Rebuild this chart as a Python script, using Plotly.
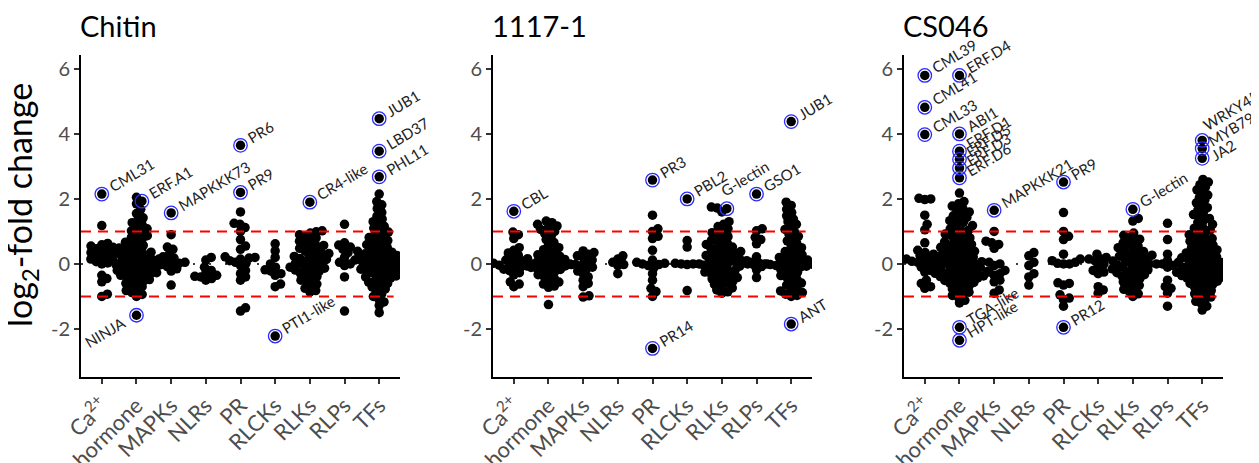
import math
import plotly.graph_objects as go

categories = ["Ca2+", "hormone", "MAPKs", "NLRs", "PR", "RLCKs", "RLKs", "RLPs", "TFs"]
category_ticktext = ["Ca<sup>2+</sup>", "hormone", "MAPKs", "NLRs", "PR", "RLCKs", "RLKs", "RLPs", "TFs"]
panel_titles = ["Chitin", "1117-1", "CS046"]
ytick_vals = [-2, 0, 2, 4, 6]
ytick_text = ["-2", "0", "2", "4", "6"]
threshold = 1.0

# ---------------- Chitin ----------------
chitin_ca = [1.18, 0.63, 0.59, 0.55, 0.51, 0.47, 0.43, 0.39, 0.35, 0.31, 0.27, 0.23, 0.19, 0.15, 0.11, 0.07, 0.03,
             0.0, -0.35, -0.45, -0.55, -0.93, -1.0]
chitin_hormone = [2.05, 1.85, 1.68, 1.55, 1.42, 1.33, 1.27, 1.2, 1.14, 1.08, 1.02, 0.97, 0.92, 0.87, 0.82, 0.77, 0.72,
                  0.67, 0.62, 0.57, 0.53, 0.49, 0.46, 0.43, 0.39, 0.36, 0.33, 0.3, 0.27, 0.24, 0.21, 0.18, 0.15, 0.12,
                  0.1, 0.08, 0.05, 0.03, 0.0, -0.02, -0.05, -0.07, -0.1, -0.12, -0.15, -0.17, -0.2, -0.22, -0.25,
                  -0.27, -0.3, -0.32, -0.35, -0.38, -0.41, -0.44, -0.48, -0.52, -0.56, -0.6, -0.65, -0.7, -0.76,
                  -0.82, -0.88, -0.94, -1.0]
chitin_mapk = [0.9, 0.52, 0.45, 0.3, 0.22, 0.18, 0.12, 0.05, 0.02, 0.0, -0.02, -0.08, -0.15, -0.22, -0.65]
chitin_nlr = [0.2, 0.12, -0.1, -0.2, -0.28, -0.35, -0.38, -0.4, -0.45, -0.5]
chitin_pr = [1.6, 1.25, 1.22, 1.12, 1.0, 0.75, 0.55, 0.45, 0.22, 0.2, 0.18, 0.15, 0.1, 0.05, 0.02, -0.05, -0.2, -0.3,
             -0.4, -0.5, -1.35, -1.45]
chitin_rlck = [0.62, 0.4, 0.2, 0.0, -0.1, -0.18, -0.22, -0.3, -0.35, -0.62, -0.7]
chitin_rlk = [1.02, 0.99, 0.95, 0.9, 0.85, 0.8, 0.75, 0.7, 0.65, 0.61, 0.57, 0.53, 0.48, 0.44, 0.4, 0.36, 0.32, 0.29,
              0.26, 0.23, 0.2, 0.17, 0.14, 0.11, 0.08, 0.05, 0.02, -0.01, -0.04, -0.07, -0.1, -0.13, -0.16, -0.19,
              -0.22, -0.25, -0.29, -0.34, -0.39, -0.44, -0.5, -0.56, -0.62, -0.68, -0.75, -0.82, -0.86]
chitin_rlp = [1.22, 0.65, 0.58, 0.52, 0.45, 0.35, 0.2, 0.12, 0.05, 0.0, -0.05, -0.4, -1.45]
chitin_tf = [2.15, 1.92, 1.82, 1.7, 1.58, 1.47, 1.38, 1.3, 1.23, 1.16, 1.1, 1.04, 0.98, 0.92, 0.86, 0.81, 0.77, 0.72,
             0.68, 0.63, 0.59, 0.54, 0.5, 0.46, 0.42, 0.39, 0.36, 0.34, 0.31, 0.29, 0.26, 0.24, 0.21, 0.19, 0.16,
             0.14, 0.11, 0.09, 0.06, 0.04, 0.01, -0.01, -0.04, -0.06, -0.09, -0.11, -0.14, -0.16, -0.19, -0.21,
             -0.24, -0.27, -0.3, -0.33, -0.37, -0.4, -0.44, -0.48, -0.52, -0.56, -0.6, -0.65, -0.71, -0.77, -0.84,
             -0.92, -1.0, -1.08, -1.17, -1.28, -1.5]
chitin_labels = [("CML31", "Ca2+", 2.15), ("ERF.A1", "hormone", 1.93), ("NINJA", "hormone", -1.58),
                 ("MAPKKK73", "MAPKs", 1.57), ("PR6", "PR", 3.65), ("PR9", "PR", 2.2),
                 ("PTI1-like", "RLCKs", -2.22), ("CR4-like", "RLKs", 1.9), ("JUB1", "TFs", 4.47),
                 ("LBD37", "TFs", 3.47), ("PHL11", "TFs", 2.68)]

# ---------------- 1117-1 ----------------
s1117_ca = [0.98, 0.9, 0.78, 0.5, 0.42, 0.34, 0.27, 0.21, 0.16, 0.12, 0.09, 0.06, 0.04, 0.02, 0.0, -0.02, -0.04,
            -0.06, -0.09, -0.12, -0.16, -0.21, -0.27, -0.34, -0.55, -0.62, -0.7]
s1117_hormone = [1.32, 1.27, 1.22, 1.17, 1.12, 1.06, 1.0, 0.93, 0.85, 0.75, 0.66, 0.58, 0.5, 0.44, 0.38, 0.33, 0.28,
                 0.24, 0.2, 0.17, 0.14, 0.11, 0.08, 0.06, 0.04, 0.02, 0.0, -0.02, -0.04, -0.06, -0.08, -0.11, -0.14,
                 -0.17, -0.2, -0.24, -0.28, -0.33, -0.38, -0.44, -0.5, -0.56, -0.62, -0.68, -0.72, -1.25]
s1117_mapk = [0.4, 0.35, 0.3, 0.25, 0.2, 0.12, 0.05, 0.0, -0.02, -0.05, -0.1, -0.15, -0.22, -0.3, -0.4, -0.5, -0.6,
              -0.7, -0.98, -1.02]
s1117_nlr = [0.25, 0.15, 0.05, -0.02, -0.05, -0.3]
s1117_pr = [1.5, 1.08, 1.0, 0.85, 0.78, 0.42, 0.12, 0.05, 0.02, 0.0, -0.02, -0.05, -0.12, -0.3, -0.5, -0.75, -0.85,
            -1.0]
s1117_rlck = [0.72, 0.52, 0.0, 0.0, 0.0, 0.02, -0.02, -0.82]
s1117_rlk = [1.75, 1.72, 1.6, 1.3, 1.22, 1.15, 1.08, 1.02, 0.96, 0.9, 0.84, 0.78, 0.73, 0.68, 0.64, 0.6, 0.56, 0.52,
             0.48, 0.45, 0.42, 0.38, 0.35, 0.32, 0.29, 0.26, 0.23, 0.2, 0.17, 0.14, 0.11, 0.08, 0.05, 0.02, -0.01,
             -0.04, -0.07, -0.1, -0.13, -0.16, -0.19, -0.22, -0.25, -0.28, -0.31, -0.35, -0.38, -0.42, -0.46, -0.5,
             -0.54, -0.58, -0.63, -0.68, -0.74, -0.8, -0.86, -0.9]
s1117_rlp = [1.08, 1.02, 0.82, 0.75, 0.62, 0.22, 0.0, 0.0, 0.02, -0.02, -0.08, -0.18, -0.42]
s1117_tf = [1.9, 1.8, 1.68, 1.58, 1.48, 1.38, 1.3, 1.22, 1.14, 1.06, 0.99, 0.92, 0.85, 0.78, 0.71, 0.64, 0.57, 0.5,
            0.44, 0.38, 0.33, 0.28, 0.24, 0.2, 0.17, 0.14, 0.12, 0.1, 0.08, 0.07, 0.06, 0.05, 0.04, 0.03, 0.02, 0.01,
            0.0, 0.0, -0.01, -0.02, -0.03, -0.05, -0.07, -0.1, -0.13, -0.17, -0.21, -0.26, -0.31, -0.36, -0.41,
            -0.47, -0.53, -0.59, -0.65, -0.71, -0.77, -0.83, -0.88, -0.93, -0.97, -1.0]
s1117_labels = [("CBL", "Ca2+", 1.62), ("PR3", "PR", 2.58), ("PR14", "PR", -2.6), ("PBL2", "RLCKs", 2.0),
                ("G-lectin", "RLKs", 1.7), ("GSO1", "RLPs", 2.15), ("JUB1", "TFs", 4.38), ("ANT", "TFs", -1.85)]

# ---------------- CS046 ----------------
cs046_ca = [2.02, 2.0, 1.98, 1.5, 1.22, 1.05, 0.65, 0.42, 0.35, 0.3, 0.25, 0.18, 0.15, 0.12, 0.1, 0.08, 0.05, 0.02,
            -0.05, -0.1, -0.2, -0.25, -0.5, -0.6, -0.7, -0.75]
cs046_hormone = [2.18, 1.92, 1.85, 1.78, 1.72, 1.66, 1.6, 1.54, 1.48, 1.43, 1.38, 1.33, 1.28, 1.23, 1.18, 1.13, 1.08,
                 1.04, 1.0, 0.96, 0.92, 0.88, 0.84, 0.8, 0.76, 0.72, 0.68, 0.64, 0.6, 0.57, 0.54, 0.51, 0.48, 0.45,
                 0.42, 0.39, 0.36, 0.33, 0.3, 0.27, 0.24, 0.21, 0.18, 0.15, 0.12, 0.09, 0.07, 0.04, 0.02, 0.0, -0.02,
                 -0.04, -0.06, -0.09, -0.11, -0.13, -0.15, -0.17, -0.19, -0.21, -0.23, -0.25, -0.27, -0.29, -0.31,
                 -0.33, -0.35, -0.37, -0.39, -0.41, -0.43, -0.45, -0.48, -0.51, -0.54, -0.57, -0.6, -0.64, -0.68,
                 -0.72, -0.77, -0.82, -0.87, -0.92, -0.97, -1.02, -1.12, -1.2]
cs046_mapk = [1.0, 0.7, 0.65, 0.6, 0.48, 0.05, 0.0, -0.05, -0.2, -0.25, -0.3, -0.35, -0.5, -0.55, -0.8, -0.9]
cs046_nlr = [0.35, 0.25, 0.05, -0.05, -0.3, -0.4, -0.65]
cs046_pr = [1.58, 1.0, 0.85, 0.75, 0.3, 0.15, 0.1, 0.05, 0.0, 0.0, 0.02, -0.6, -0.58, -0.65, -0.95, -1.05, -1.1,
            -1.3]
cs046_rlck = [0.3, 0.2, 0.15, 0.15, 0.1, 0.0, -0.05, -0.2, -0.25, -0.3, -0.7, -0.8, -0.9]
cs046_rlk = [1.4, 1.32, 0.95, 0.88, 0.82, 0.76, 0.7, 0.65, 0.6, 0.55, 0.5, 0.46, 0.42, 0.38, 0.34, 0.3, 0.27, 0.24,
             0.21, 0.18, 0.15, 0.12, 0.09, 0.06, 0.03, 0.0, -0.03, -0.06, -0.09, -0.12, -0.15, -0.18, -0.21, -0.24,
             -0.27, -0.3, -0.33, -0.37, -0.41, -0.45, -0.5, -0.55, -0.6, -0.66, -0.72, -0.78, -0.85, -0.92, -1.0]
cs046_rlp = [1.25, 0.75, 0.3, 0.1, 0.05, 0.0, 0.0, -0.05, -0.1, -0.5, -0.7, -0.75, -0.9, -1.3]
cs046_tf = [2.6, 2.52, 2.44, 2.36, 2.28, 2.2, 2.12, 2.04, 1.96, 1.88, 1.8, 1.73, 1.66, 1.59, 1.52, 1.46, 1.4, 1.34,
            1.28, 1.22, 1.16, 1.1, 1.05, 1.0, 0.95, 0.9, 0.86, 0.82, 0.78, 0.74, 0.7, 0.66, 0.62, 0.58, 0.54, 0.5,
            0.46, 0.43, 0.4, 0.37, 0.34, 0.31, 0.28, 0.25, 0.22, 0.19, 0.16, 0.13, 0.1, 0.08, 0.05, 0.03, 0.0,
            -0.02, -0.04, -0.06, -0.08, -0.1, -0.12, -0.14, -0.16, -0.18, -0.2, -0.22, -0.24, -0.26, -0.28, -0.3,
            -0.32, -0.34, -0.36, -0.38, -0.4, -0.42, -0.44, -0.47, -0.5, -0.53, -0.56, -0.6, -0.64, -0.68, -0.72,
            -0.77, -0.82, -0.87, -0.92, -0.97, -1.02, -1.08, -1.15, -1.22, -1.3, -1.42]
cs046_labels = [("CML39", "Ca2+", 5.8), ("CML41", "Ca2+", 4.82), ("CML33", "Ca2+", 3.98),
                ("ERF.D4", "hormone", 5.8), ("ABI1", "hormone", 4.0), ("ERF.D1", "hormone", 3.47),
                ("ERF.D5", "hormone", 3.22), ("ERF.D3", "hormone", 2.95), ("ERF.D6", "hormone", 2.65),
                ("TGA-like", "hormone", -1.95), ("HPT-like", "hormone", -2.35), ("MAPKKK21", "MAPKs", 1.65),
                ("PR9", "PR", 2.52), ("PR12", "PR", -1.95), ("G-lectin", "RLKs", 1.68),
                ("WRKY45", "TFs", 3.8), ("MYB79", "TFs", 3.55), ("JA2", "TFs", 3.25)]

panel_data = [
    [chitin_ca, chitin_hormone, chitin_mapk, chitin_nlr, chitin_pr, chitin_rlck, chitin_rlk, chitin_rlp, chitin_tf],
    [s1117_ca, s1117_hormone, s1117_mapk, s1117_nlr, s1117_pr, s1117_rlck, s1117_rlk, s1117_rlp, s1117_tf],
    [cs046_ca, cs046_hormone, cs046_mapk, cs046_nlr, cs046_pr, cs046_rlck, cs046_rlk, cs046_rlp, cs046_tf],
]
panel_labels = [chitin_labels, s1117_labels, cs046_labels]

# ---------------- layout geometry (page body has an 8px margin) ----------------
OFF = 8
W, H = 1259 - OFF, 463 - OFF
XR = (0.4, 9.6)
YR = (-3.48, 6.43)
dom_px = [(81 - OFF, 400 - OFF), (493 - OFF, 812 - OFF), (904 - OFF, 1223 - OFF)]
top_px, bot_px = 55 - OFF, 377 - OFF
px_per_x = (dom_px[0][1] - dom_px[0][0]) / (XR[1] - XR[0])
px_per_y = (bot_px - top_px) / (YR[1] - YR[0])
D = 6.0
FONT = "Lato"
label_shift = {(1, "G-lectin"): (-12, 7), (2, "WRKY45"): (-5, 4), (2, "MYB79"): (0, -4), (2, "JA2"): (3, -9)}


def swarm(values):
    ys = [v * px_per_y for v in values]
    order = sorted(range(len(values)), key=lambda i: ys[i])
    placed = []
    xs = [0.0] * len(values)
    for i in order:
        y = ys[i]
        near = [(px, py) for px, py in placed if abs(py - y) < D]
        cands = [0.0]
        for px, py in near:
            dx = math.sqrt(max(D * D - (py - y) ** 2, 0))
            cands.extend([px + dx, px - dx])
        cands.sort(key=lambda c: (abs(c), -c))
        for c in cands:
            if all((c - px) ** 2 + (y - py) ** 2 >= D * D - 1e-6 for px, py in near):
                xs[i] = c
                break
        placed.append((xs[i], y))
    return [x / px_per_x for x in xs]


fig = go.Figure()
annotations = []
shapes = []
left_side = {"NINJA"}
label_font = dict(family=FONT, size=15, color="#222222")

for p in range(3):
    sfx = "" if p == 0 else str(p + 1)
    xref, yref = "x" + sfx, "y" + sfx
    dot_x, dot_y, ring_x, ring_y = [], [], [], []
    for k, cat in enumerate(categories):
        labs = [l for l in panel_labels[p] if l[1] == cat]
        vals = list(panel_data[p][k]) + [l[2] for l in labs]
        offs = swarm(vals)
        xs = [k + 1 + o for o in offs]
        dot_x += xs
        dot_y += vals
        n0 = len(panel_data[p][k])
        for j, l in enumerate(labs):
            xx = xs[n0 + j]
            ring_x.append(xx)
            ring_y.append(l[2])
            if l[0] in left_side:
                annotations.append(dict(x=xx, y=l[2], xref=xref, yref=yref, text=l[0], showarrow=False,
                                        textangle=-31, xanchor="right", yanchor="top", xshift=-5, yshift=5,
                                        font=label_font))
            else:
                sx, sy = label_shift.get((p, l[0]), (1, -4))
                annotations.append(dict(x=xx, y=l[2], xref=xref, yref=yref, text=l[0], showarrow=False,
                                        textangle=-31, xanchor="left", yanchor="bottom", xshift=sx, yshift=sy,
                                        font=label_font))
    fig.add_trace(go.Scatter(x=dot_x, y=dot_y, mode="markers", xaxis=xref, yaxis=yref,
                             marker=dict(color="black", size=9.5, line=dict(width=0)),
                             hoverinfo="skip", showlegend=False))
    fig.add_trace(go.Scatter(x=ring_x, y=ring_y, mode="markers", xaxis=xref, yaxis=yref,
                             marker=dict(symbol="circle-open", color="#2a2aff", size=13.5, line=dict(width=1.3)),
                             hoverinfo="skip", showlegend=False))

    shapes.append(dict(type="line", xref=xref + " domain", yref=yref, x0=0, x1=1, y0=0, y1=0,
                       line=dict(color="black", width=1.6, dash="2px,14px"), layer="below"))
    for t in (threshold, -threshold):
        shapes.append(dict(type="line", xref=xref + " domain", yref=yref, x0=0, x1=0.98, y0=t, y1=t,
                           line=dict(color="#ff0000", width=2, dash="10px,7px"), layer="above"))

    d0, d1 = dom_px[p]
    axis_common = dict(showline=True, linecolor="black", linewidth=2, showgrid=False, zeroline=False,
                       ticks="outside", ticklen=5, tickwidth=1.5, tickcolor="#333333", automargin=False)
    fig.layout["xaxis" + sfx] = dict(domain=[d0 / W, d1 / W], range=list(XR), anchor=yref,
                                     tickmode="array", tickvals=list(range(1, 10)), ticktext=category_ticktext,
                                     tickangle=-45, tickfont=dict(family=FONT, size=22, color="#4d4d4d"),
                                     **axis_common)
    fig.layout["yaxis" + sfx] = dict(domain=[1 - bot_px / H, 1 - top_px / H], range=list(YR), anchor=xref,
                                     tickmode="array", tickvals=ytick_vals, ticktext=ytick_text,
                                     tickfont=dict(family=FONT, size=20, color="#4d4d4d"), **axis_common)
    annotations.append(dict(x=(d0 - 3) / W, y=1 - (26 - OFF) / H, xref="paper", yref="paper",
                            text=panel_titles[p], showarrow=False, xanchor="left", yanchor="middle",
                            font=dict(family=FONT, size=29, color="black")))

annotations.append(dict(x=13 / W, y=1 - (205 - OFF) / H, xref="paper", yref="paper",
                        text="log<sub>2</sub>-fold change", showarrow=False, textangle=-90,
                        xanchor="center", yanchor="middle", font=dict(family=FONT, size=34, color="black")))

fig.update_layout(width=W, height=H, margin=dict(l=0, r=0, t=0, b=0), plot_bgcolor="white",
                  paper_bgcolor="white", annotations=annotations, shapes=shapes, showlegend=False)
fig.write_html("out.html")
